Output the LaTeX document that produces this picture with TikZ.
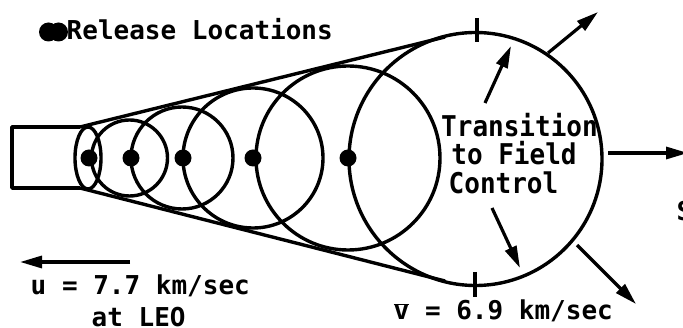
\documentclass[tikz,border=0pt]{standalone}
\usepackage{fontspec}
\setmonofont{DejaVu Sans Mono}
\usetikzlibrary{arrows.meta}
\begin{document}
\begin{tikzpicture}[x=1pt,y=-1pt,line width=3.4pt,line join=round,
  lbl/.style={font=\ttfamily\bfseries\fontsize{26}{30}\selectfont, inner sep=0pt},
  tall/.style={lbl, yscale=1.1, transform shape},
  arr/.style={-{Triangle[length=22pt,width=12pt]}, line width=3.2pt},
  dotn/.style={circle, fill=black, inner sep=0pt, minimum size=17pt}]
\useasboundingbox (0,0) rectangle (683,328);
% expanding clouds
\draw (88,158) ellipse [x radius=13pt, y radius=31pt];
\draw (129.5,158) circle [radius=38pt];
\draw (182,158) circle [radius=51pt];
\draw (253,158) circle [radius=70pt];
\draw (348,158) circle [radius=92pt];
\coordinate (c6) at (475.5,159);
\draw (c6) circle [radius=126.5pt];
% launcher box and envelope
\coordinate (p0) at (80,127);
\coordinate (p1) at (80,188);
\coordinate (t0) at (445,37);
\coordinate (t1) at (445,281);
\draw (p0) -- (12,127) -- (12,188) -- (p1);
\draw (p0) -- (t0);
\draw (p1) -- (t1);
% release points
\node[dotn] (d1) at (89,158) {};
\node[dotn] (d2) at (131,158) {};
\node[dotn] (d3) at (183,158) {};
\node[dotn] (d4) at (253,158) {};
\node[dotn] (d5) at (348,158) {};
% ticks
\draw (477,18) -- (477,42);
\draw (475,272) -- (475,297);
% arrows
\coordinate (a1s) at (548,53);   \coordinate (a1e) at (598,12);
\coordinate (a2s) at (485,103);  \coordinate (a2e) at (511,46);
\coordinate (a3s) at (492,208);  \coordinate (a3e) at (520,268);
\coordinate (a4s) at (577,245);  \coordinate (a4e) at (636,304);
\coordinate (a5s) at (608,153);  \coordinate (a5e) at (688,153);
\coordinate (a6s) at (130,262);  \coordinate (a6e) at (20,262);
\draw[arr] (a1s) -- (a1e);
\draw[arr] (a2s) -- (a2e);
\draw[arr] (a3s) -- (a3e);
\draw[arr] (a4s) -- (a4e);
\draw[arr] (a5s) -- (a5e);
\draw[arr] (a6s) -- (a6e);
% legend
\fill (48.5,32) circle [radius=9.5pt];
\fill (58.5,32) circle [radius=9.5pt];
\node[lbl, anchor=base west] (rel) at (65,40) {Release Locations};
% labels
\node[tall, anchor=base] (tr1) at (519.5,137) {Transition};
\node[tall, anchor=base] (tr2) at (514,165) {to Field};
\node[tall, anchor=base] (tr3) at (503.5,194) {Control};
\node[lbl, anchor=base west] (u1) at (29,295) {u = 7.7 km/sec};
\node[lbl, anchor=base west] (u2) at (90,327) {at LEO};
\node[lbl, anchor=base west] (v1) at (392,320) {$\overline{\mbox{v}}$ = 6.9 km/sec};
\node[lbl, anchor=base west] (s1) at (675,221) {S};
\end{tikzpicture}
\end{document}
